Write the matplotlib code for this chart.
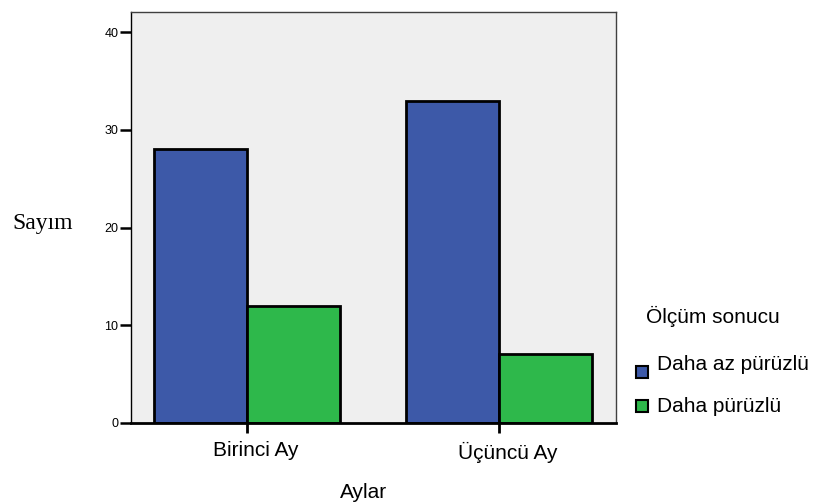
import matplotlib
matplotlib.use("Agg")
import matplotlib.pyplot as plt
import matplotlib.transforms as mtransforms
import numpy as np
from matplotlib.lines import Line2D

# data
months = ["Birinci Ay", "Üçüncü Ay"]
less_rough = [28, 33]
rougher = [12, 7]
series_names = ["Daha az pürüzlü", "Daha pürüzlü"]
yticks = [0, 10, 20, 30, 40]

blue = "#3d59a8"
green = "#2eb84b"

plt.rcParams["font.family"] = ["Liberation Sans", "DejaVu Sans"]

fig = plt.figure(figsize=(8.15, 5.04), dpi=100)
ax = fig.add_axes([130.7 / 815, (504 - 422.7) / 504, 485 / 815, 410.7 / 504])
ax.set_facecolor("#efefef")

x = np.arange(len(months))
w = 0.369
ax.bar(x - w / 2, less_rough, w, color=blue, edgecolor="black", linewidth=2, zorder=2)
ax.bar(x + w / 2, rougher, w, color=green, edgecolor="black", linewidth=2, zorder=2)

ax.set_xlim(-0.463, 1.462)
ax.set_ylim(0, 42.08)
ax.set_yticks(yticks)
ax.set_yticklabels([str(v) for v in yticks], fontsize=9)
ax.set_xticks(x)
ax.set_xticklabels(months, fontsize=15)
ax.tick_params(axis="y", length=8, width=1.8, pad=1)
ax.tick_params(axis="x", length=7.5, width=2, pad=6)

# labels sit a little right of their ticks in the original
shift = mtransforms.ScaledTranslation(8 / 100, 0, fig.dpi_scale_trans)
for lab in ax.get_xticklabels():
    lab.set_transform(lab.get_transform() + shift)

ax.spines["left"].set_linewidth(1)
ax.spines["bottom"].set_linewidth(2)
ax.spines["bottom"].set_zorder(3)
for s in ["top", "right"]:
    ax.spines[s].set_color("#404040")
    ax.spines[s].set_linewidth(1)

fig.text(364 / 815, 1 - 493 / 504, "Aylar", fontsize=15, ha="center", va="center")
fig.text(43 / 815, 1 - 223 / 504, "Sayım", fontsize=17, ha="center", va="center",
         family=["Liberation Serif", "DejaVu Serif"])

# legend drawn by hand outside the axes
fig.text(646 / 815, 1 - 316.5 / 504, "Ölçüm sonucu", fontsize=15, ha="left", va="center")
colors = [blue, green]
text_y = [365, 406]
marker_y = [372, 406]
for c, name, ty, my in zip(colors, series_names, text_y, marker_y):
    fig.lines.append(Line2D([642 / 815], [1 - my / 504], transform=fig.transFigure,
                            marker="s", linestyle="none", markersize=8,
                            markerfacecolor=c, markeredgecolor="black",
                            markeredgewidth=1.5))
    fig.text(657 / 815, 1 - ty / 504, name, fontsize=15, ha="left", va="center")

fig.savefig("out.png", dpi=100)
